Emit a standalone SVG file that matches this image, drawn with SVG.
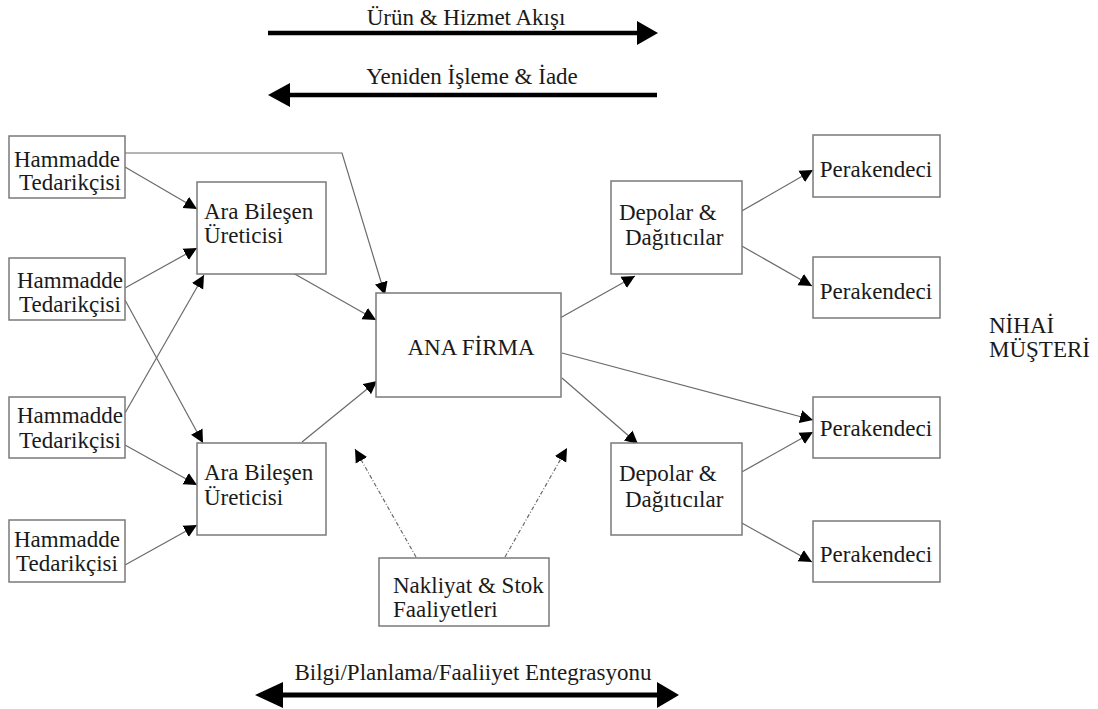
<svg xmlns="http://www.w3.org/2000/svg" width="1098" height="709" viewBox="0 0 1098 709">
<style>
.box{fill:#fff;stroke:#7a7a7a;stroke-width:1.5}
.t{font-family:'Liberation Serif','Tinos','Times New Roman','DejaVu Serif',serif;font-size:23px;fill:#1a1a1a}
.c{fill:none;stroke:#6a6a6a;stroke-width:1.2}
.d{fill:none;stroke:#6a6a6a;stroke-width:1.2;stroke-dasharray:4 2 1 2}
.thick{stroke:#000;stroke-width:4.5}
</style>
<defs>
<marker id="ah" markerUnits="userSpaceOnUse" markerWidth="14" markerHeight="14" refX="13" refY="6.5" orient="auto" viewBox="0 0 14 13">
<path d="M0,0 L13,6.5 L0,13 z" fill="#000"/>
</marker>
</defs>
<rect width="1098" height="709" fill="#fff"/>

<g id="flow-arrows">
<text class="t" x="466" y="25" text-anchor="middle">Ürün &amp; Hizmet Akışı</text>
<line class="thick" x1="268" y1="33" x2="640" y2="33"/>
<polygon points="637,21 658,33 637,45" fill="#000"/>
<text class="t" x="472" y="84" text-anchor="middle">Yeniden İşleme &amp; İade</text>
<line class="thick" x1="288" y1="95" x2="657" y2="95"/>
<polygon points="290,83 268,95 290,107" fill="#000"/>
<text class="t" x="473" y="680" text-anchor="middle">Bilgi/Planlama/Faaliiyet Entegrasyonu</text>
<line class="thick" x1="280" y1="695" x2="660" y2="695" style="stroke-width:5"/>
<polygon points="283,682 255,695 283,708" fill="#000"/>
<polygon points="657,682 679,695 657,708" fill="#000"/>
</g>

<g id="connectors">
<polyline class="c" points="125,153 342,153 385,295" marker-end="url(#ah)"/>
<line class="c" x1="125" y1="167" x2="197" y2="209" marker-end="url(#ah)"/>
<line class="c" x1="125" y1="288" x2="197" y2="248" marker-end="url(#ah)"/>
<line class="c" x1="125" y1="300" x2="203" y2="443" marker-end="url(#ah)"/>
<line class="c" x1="125" y1="413" x2="204" y2="275" marker-end="url(#ah)"/>
<line class="c" x1="125" y1="445" x2="197" y2="485" marker-end="url(#ah)"/>
<line class="c" x1="125" y1="565" x2="197" y2="525" marker-end="url(#ah)"/>
<line class="c" x1="293" y1="273" x2="376" y2="320" marker-end="url(#ah)"/>
<line class="c" x1="302" y1="442" x2="377" y2="381" marker-end="url(#ah)"/>
<line class="c" x1="560" y1="318" x2="635" y2="276" marker-end="url(#ah)"/>
<line class="c" x1="740" y1="212" x2="813" y2="170" marker-end="url(#ah)"/>
<line class="c" x1="740" y1="245" x2="812" y2="286" marker-end="url(#ah)"/>
<line class="c" x1="562" y1="353" x2="813" y2="420" marker-end="url(#ah)"/>
<line class="c" x1="562" y1="378" x2="638" y2="444" marker-end="url(#ah)"/>
<line class="c" x1="740" y1="473" x2="813" y2="432" marker-end="url(#ah)"/>
<line class="c" x1="740" y1="522" x2="812" y2="562" marker-end="url(#ah)"/>
<line class="d" x1="416" y1="557" x2="355" y2="449" marker-end="url(#ah)"/>
<line class="d" x1="505" y1="557" x2="567" y2="448" marker-end="url(#ah)"/>
</g>

<g id="hammadde1"><rect class="box" x="9" y="136" width="116" height="62"/>
<text class="t" x="67" y="167" text-anchor="middle">Hammadde</text><text class="t" x="70" y="190" text-anchor="middle">Tedarikçisi</text></g>
<g id="hammadde2"><rect class="box" x="9" y="258" width="116" height="62"/>
<text class="t" x="70" y="288" text-anchor="middle">Hammadde</text><text class="t" x="70" y="312" text-anchor="middle">Tedarikçisi</text></g>
<g id="hammadde3"><rect class="box" x="9" y="397" width="116" height="61"/>
<text class="t" x="70" y="423" text-anchor="middle">Hammadde</text><text class="t" x="70" y="448" text-anchor="middle">Tedarikçisi</text></g>
<g id="hammadde4"><rect class="box" x="9" y="520" width="116" height="62"/>
<text class="t" x="67" y="547" text-anchor="middle">Hammadde</text><text class="t" x="67" y="571" text-anchor="middle">Tedarikçisi</text></g>

<g id="ara1"><rect class="box" x="197" y="182" width="129" height="92"/>
<text class="t" x="204" y="219">Ara Bileşen</text><text class="t" x="204" y="243">Üreticisi</text></g>
<g id="ara2"><rect class="box" x="197" y="443" width="129" height="92"/>
<text class="t" x="204" y="480">Ara Bileşen</text><text class="t" x="204" y="505">Üreticisi</text></g>

<g id="ana"><rect class="box" x="376" y="293" width="185" height="104"/>
<text class="t" x="471" y="355" text-anchor="middle">ANA FİRMA</text></g>

<g id="depolar1"><rect class="box" x="611" y="181" width="131" height="93"/>
<text class="t" x="619" y="220">Depolar &amp;</text><text class="t" x="625" y="245">Dağıtıcılar</text></g>
<g id="depolar2"><rect class="box" x="611" y="443" width="131" height="92"/>
<text class="t" x="619" y="481">Depolar &amp;</text><text class="t" x="625" y="507">Dağıtıcılar</text></g>

<g id="perakendeci1"><rect class="box" x="813" y="135" width="127" height="62"/>
<text class="t" x="876" y="177" text-anchor="middle">Perakendeci</text></g>
<g id="perakendeci2"><rect class="box" x="813" y="257" width="127" height="61"/>
<text class="t" x="876" y="299" text-anchor="middle">Perakendeci</text></g>
<g id="perakendeci3"><rect class="box" x="813" y="397" width="127" height="61"/>
<text class="t" x="876" y="436" text-anchor="middle">Perakendeci</text></g>
<g id="perakendeci4"><rect class="box" x="813" y="521" width="127" height="61"/>
<text class="t" x="876" y="562" text-anchor="middle">Perakendeci</text></g>

<g id="nakliyat"><rect class="box" x="379" y="558" width="170" height="68"/>
<text class="t" x="393" y="593">Nakliyat &amp; Stok</text><text class="t" x="393" y="617">Faaliyetleri</text></g>

<g id="nihai-musteri">
<text class="t" x="989" y="333">NİHAİ</text><text class="t" x="989" y="357">MÜŞTERİ</text></g>
</svg>
